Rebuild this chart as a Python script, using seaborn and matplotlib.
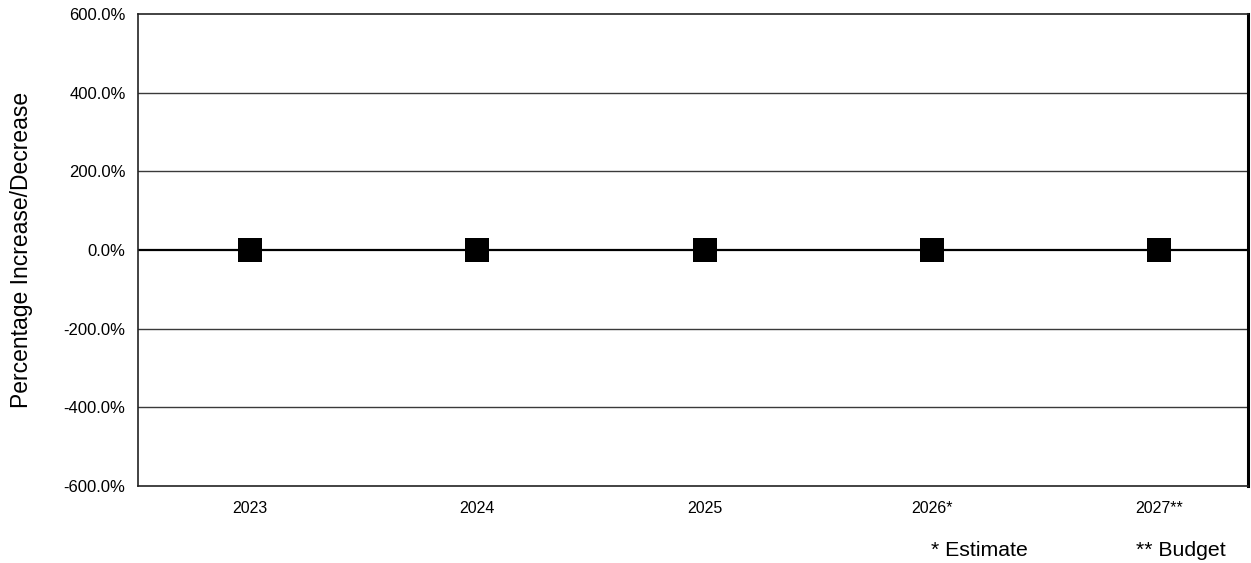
import matplotlib
matplotlib.use("Agg")
import matplotlib.pyplot as plt
import seaborn as sns
import pandas as pd
from matplotlib.ticker import FuncFormatter

years = ["2023", "2024", "2025", "2026*", "2027**"]
pct_change = [0.0, 0.0, 0.0, 0.0, 0.0]
y_ticks = [-600, -400, -200, 0, 200, 400, 600]
footnotes = ["* Estimate", "** Budget"]

sns.set_style("white")
plt.rcParams["font.family"] = ["Liberation Sans", "DejaVu Sans"]
plt.rcParams["text.color"] = "black"
plt.rcParams["axes.labelcolor"] = "black"

df = pd.DataFrame({"year": years, "pct": pct_change})

fig = plt.figure(figsize=(12.51, 5.63), dpi=100)
ax = fig.add_axes([138 / 1251, 1 - 486 / 563, (1248 - 138) / 1251, (486 - 14) / 563])

for t in y_ticks:
    if t not in (-600, 600):
        ax.axhline(t, color="black" if t == 0 else "#3a3a3a",
                   lw=1.6 if t == 0 else 1.0, zorder=1)

sns.scatterplot(data=df, x="year", y="pct", marker="s", s=300, color="black",
                edgecolor="black", linewidth=0, ax=ax, zorder=3)

ax.set_xlim(-0.493, 4.39)
ax.set_ylim(-600, 600)
ax.set_yticks(y_ticks)
ax.yaxis.set_major_formatter(FuncFormatter(lambda v, p: f"{v:.1f}%"))
ax.tick_params(axis="both", length=0, colors="black")
ax.tick_params(axis="y", pad=9, labelsize=12)
ax.tick_params(axis="x", pad=11, labelsize=11.5)
ax.set_xlabel("")
ax.set_ylabel("Percentage Increase/Decrease", fontsize=16.5, labelpad=22)

for side in ["left", "bottom", "top"]:
    ax.spines[side].set_color("#222222")
    ax.spines[side].set_linewidth(1.2)
ax.spines["right"].set_color("black")
ax.spines["right"].set_linewidth(2.2)

fig.text(979 / 1251, 1 - 550 / 563, footnotes[0], ha="center", va="center", fontsize=15.3)
fig.text(1181 / 1251, 1 - 550 / 563, footnotes[1], ha="center", va="center", fontsize=15.3)

fig.savefig("out.png", dpi=100)
